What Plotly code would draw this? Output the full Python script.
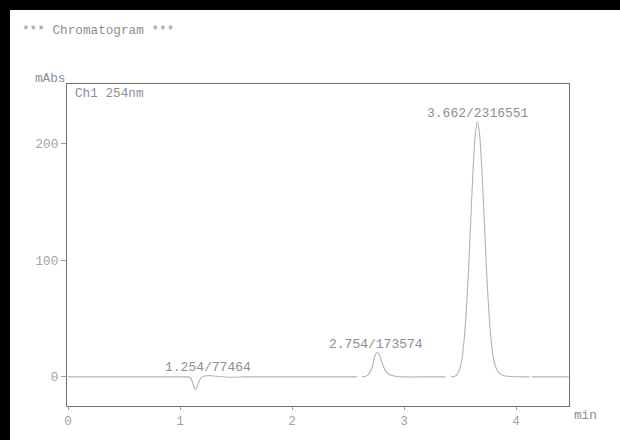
import plotly.graph_objects as go

# ---- data (time in min, signal in mAbs) ----
time_min = [0.00, 0.50, 1.00, 1.06, 1.09, 1.11, 1.13, 1.14, 1.155, 1.17, 1.19, 1.22,
            1.28, 1.35, 1.45, 1.60, 2.00, 2.40, 2.58, 2.60,
            2.625, 2.66, 2.69, 2.72, 2.74, 2.76, 2.78, 2.80, 2.83, 2.86, 2.90, 2.95,
            3.00, 3.20, 3.37, 3.40,
            3.42, 3.455, 3.475, 3.495, 3.515, 3.535, 3.555, 3.575, 3.595, 3.615, 3.635,
            3.655, 3.675, 3.695, 3.715, 3.735, 3.755, 3.775, 3.795, 3.815, 3.835, 3.855,
            3.875, 3.905, 3.95, 4.05, 4.12, 4.13,
            4.14, 4.30, 4.47]
signal_mabs = [0.0, 0.0, 0.0, 0.0, -0.5, -4.0, -10.0, -11.0, -8.0, -4.0, -0.5, 0.8,
               1.0, 0.3, -0.3, 0.0, 0.0, 0.0, 0.0, None,
               0.0, 0.5, 3.0, 10.0, 18.0, 21.0, 19.0, 13.0, 6.0, 2.5, 1.0, 0.3,
               0.0, 0.0, 0.0, None,
               0.0, 0.5, 2.4, 6.0, 14.0, 30.0, 55.0, 90.0, 133.0, 175.0, 207.0,
               219.0, 208.0, 178.0, 137.0, 95.0, 60.0, 34.0, 18.0, 9.5, 5.0, 2.8,
               1.6, 0.8, 0.3, 0.0, 0.0, None,
               0.0, 0.0, 0.0]

peak_rt = [1.254, 2.754, 3.662]
peak_area = [77464, 173574, 2316551]

y_ticks = [0, 100, 200]
x_ticks = [0, 1, 2, 3, 4]

# ---- layout geometry (pixels) ----
W, H = 620, 440
L, R, T, B = 67, 569, 84, 406
FONT = "Liberation Mono, Courier New, monospace"
TXT = "#8e8e8e"
TICK_TXT = "#a2a2a2"


def px_x(px):
    return (px - L) / (R - L)


def px_y(py):
    return (B - py) / (B - T)


fig = go.Figure()
fig.add_trace(go.Scatter(
    x=time_min, y=signal_mabs, mode="lines",
    line=dict(color="#b3b3b3", width=1.1, shape="spline", smoothing=0.6),
    connectgaps=False, hoverinfo="skip", showlegend=False,
))

annotations = []
for rt, area in zip(peak_rt, peak_area):
    # label sits just above the local extreme of the trace near the retention time
    near = [s for t, s in zip(time_min, signal_mabs)
            if s is not None and abs(t - rt) < 0.15]
    top = max(0.0, max(near))
    annotations.append(dict(
        x=rt, y=top, xref="x", yref="y", text=f"{rt:.3f}/{area}",
        showarrow=False, xanchor="center", yanchor="middle", yshift=8,
        font=dict(family=FONT, size=13, color=TXT),
    ))

annotations += [
    dict(x=px_x(20), y=px_y(30), xref="paper", yref="paper",
         text="*** Chromatogram ***", showarrow=False, xanchor="left",
         yanchor="middle", font=dict(family=FONT, size=12.7, color=TXT)),
    dict(x=px_x(33), y=px_y(78), xref="paper", yref="paper", text="mAbs",
         showarrow=False, xanchor="left", yanchor="middle",
         font=dict(family=FONT, size=12.7, color=TXT)),
    dict(x=px_x(73), y=px_y(93), xref="paper", yref="paper", text="Ch1 254nm",
         showarrow=False, xanchor="left", yanchor="middle",
         font=dict(family=FONT, size=12.7, color=TXT)),
    dict(x=px_x(572), y=px_y(415), xref="paper", yref="paper", text="min",
         showarrow=False, xanchor="left", yanchor="middle",
         font=dict(family=FONT, size=12.7, color=TXT)),
]

shapes = [
    # scanned page black border (top and left)
    dict(type="rect", xref="paper", yref="paper", x0=px_x(-2), x1=px_x(W + 2),
         y0=px_y(10), y1=px_y(-2), fillcolor="black", line=dict(width=0),
         layer="above"),
    dict(type="rect", xref="paper", yref="paper", x0=px_x(-2), x1=px_x(10),
         y0=px_y(H + 2), y1=px_y(-2), fillcolor="black", line=dict(width=0),
         layer="above"),
]

axis_common = dict(
    showgrid=False, zeroline=False, showline=True, mirror=True,
    linecolor="#6f6f78", linewidth=1.3, ticks="outside", tickcolor="#a0a0a0",
    tickfont=dict(family=FONT, size=12.7, color=TICK_TXT),
)

fig.update_layout(
    width=W, height=H,
    margin=dict(l=L, r=W - R, t=T, b=H - B, pad=0),
    paper_bgcolor="white", plot_bgcolor="white",
    xaxis=dict(range=[-0.009, 4.473], tickvals=x_ticks, ticklen=3, **axis_common),
    yaxis=dict(range=[-25, 251.5], tickvals=y_ticks, ticklen=5, **axis_common),
    annotations=annotations, shapes=shapes, showlegend=False,
)

fig.write_html(
    "out.html",
    config={"displayModeBar": False},
    post_script="document.body.style.margin='0';document.body.style.overflow='hidden';",
)
